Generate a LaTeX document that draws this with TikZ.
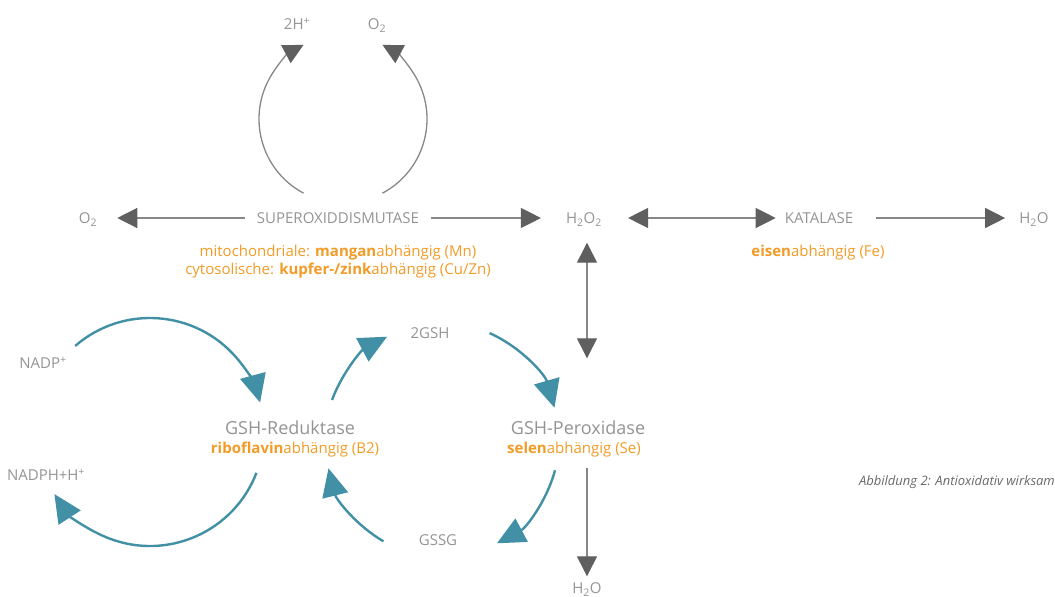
\documentclass[tikz,border=0pt]{standalone}
\usepackage{fontspec}
\setmainfont{Open Sans}
\usepackage{tikz}
\usetikzlibrary{arrows.meta,positioning}
\definecolor{ragray}{RGB}{148,148,148}
\definecolor{raline}{RGB}{135,135,135}
\definecolor{radark}{RGB}{95,95,95}
\definecolor{raorange}{RGB}{242,155,38}
\definecolor{rateal}{RGB}{66,144,165}
\definecolor{racaption}{RGB}{105,105,105}
\tikzstyle{chem} = [inner sep=0pt, text height=11pt, text depth=0pt, text=ragray, font=\fontsize{15}{17}\selectfont]
\tikzstyle{enzyme} = [inner sep=0pt, text height=13pt, text depth=0pt, text=ragray, font=\fontsize{18}{21}\selectfont]
\tikzstyle{cofactor} = [inner sep=0pt, text height=11pt, text depth=0pt, text=raorange, font=\fontsize{15}{17}\selectfont]
\tikzstyle{garrow} = [line width=1.3pt, draw=raline, -{Triangle[length=20pt,width=20pt,color=radark]}]
\tikzstyle{gboth} = [line width=1.3pt, draw=raline, {Triangle[length=20pt,width=20pt,color=radark]}-{Triangle[length=20pt,width=20pt,color=radark]}]
\tikzstyle{tarrow} = [line width=2.4pt, draw=rateal, -{Triangle[length=28pt,width=26pt]}]

\begin{document}
\begin{tikzpicture}[x=1pt, y=-1pt, node distance=8pt]
\useasboundingbox (0,0) rectangle (1055,597);
% Superoxide row
\node[chem] (sod) at (338,218) {SUPEROXIDDISMUTASE};
\node[chem] (o2l) at (88,218) {O\textsubscript{2}};
\node[chem] (h2o2) at (584,218) {H\textsubscript{2}O\textsubscript{2}};
\node[chem] (kat) at (819,218) {KATALASE};
\node[chem] (h2or) at (1034,218) {H\textsubscript{2}O};
\node[cofactor, below=22pt of sod] (mn) {mitochondriale: \textbf{mangan}abhängig (Mn)};
\node[cofactor, below=6pt of mn] (cuzn) {cytosolische: \textbf{kupfer-/zink}abhängig (Cu/Zn)};
\node[cofactor, below=22pt of kat, xshift=-1pt] (fe) {\textbf{eisen}abhängig (Fe)};
\node[chem] (htop) at (297,24) {2H\textsuperscript{+}};
\node[chem] (o2t) at (377,24) {O\textsubscript{2}};

% Glutathione cycle
\node[enzyme] (gshr) at (290,428) {GSH-Reduktase};
\node[cofactor, below=8pt of gshr, xshift=5pt] (b2) {\textbf{riboflavin}abhängig (B2)};
\node[enzyme] (gshp) at (578,428) {GSH-Peroxidase};
\node[cofactor, below=8pt of gshp, xshift=-4pt] (selen) {\textbf{selen}abhängig (Se)};
\node[chem] (nadp) at (43,363) {NADP\textsuperscript{+}};
\node[chem] (nadph) at (46,475) {NADPH+H\textsuperscript{+}};
\node[chem] (gsh) at (430,333) {2GSH};
\node[chem] (gssg) at (438,540) {GSSG};
\node[chem] (h2ob) at (587,588) {H\textsubscript{2}O};

\node[inner sep=0pt, anchor=east, text=racaption, font=\fontsize{13}{15}\selectfont\itshape] (cap) at (1055,482) {Abbildung 2: Antioxidativ wirksam};

% gray reactions
\draw[garrow, shorten <=12pt, shorten >=20pt] (sod.west) -- (o2l.east);
\draw[garrow, shorten <=12pt, shorten >=25pt] (sod.east) -- (h2o2.west);
\draw[gboth, shorten <=26pt, shorten >=9pt] (h2o2.east) -- (kat.west);
\draw[garrow, shorten <=23pt, shorten >=14pt] (kat.east) -- (h2or.west);
\draw[gboth, shorten <=19pt, shorten >=63pt] (h2o2.south -| h2ob) -- (gshp.north -| h2ob);
\draw[garrow, shorten <=14pt, shorten >=6pt] (selen.south -| h2ob) -- (h2ob.north);

\coordinate (sodring) at (343,119);
\draw[garrow] (sodring) ++(118:84) arc[start angle=118, end angle=242, radius=84];
\draw[garrow] (sodring) ++(62:84) arc[start angle=62, end angle=-62, radius=84];

% teal cycles
\coordinate (redcyc) at (150,432);
\coordinate (glucyc) at (442,440);
\draw[tarrow] (redcyc) ++(229:114) arc[start angle=229, end angle=345, radius=114];
\draw[tarrow] (redcyc) ++(21:114) arc[start angle=21, end angle=147, radius=114];
\draw[tarrow] (glucyc) ++(200:117) arc[start angle=200, end angle=242, radius=117];
\draw[tarrow] (glucyc) ++(294:117) arc[start angle=294, end angle=344, radius=117];
\draw[tarrow] (glucyc) ++(15:117) arc[start angle=15, end angle=62, radius=117];
\draw[tarrow] (glucyc) ++(120:117) arc[start angle=120, end angle=166, radius=117];
\end{tikzpicture}
\end{document}
